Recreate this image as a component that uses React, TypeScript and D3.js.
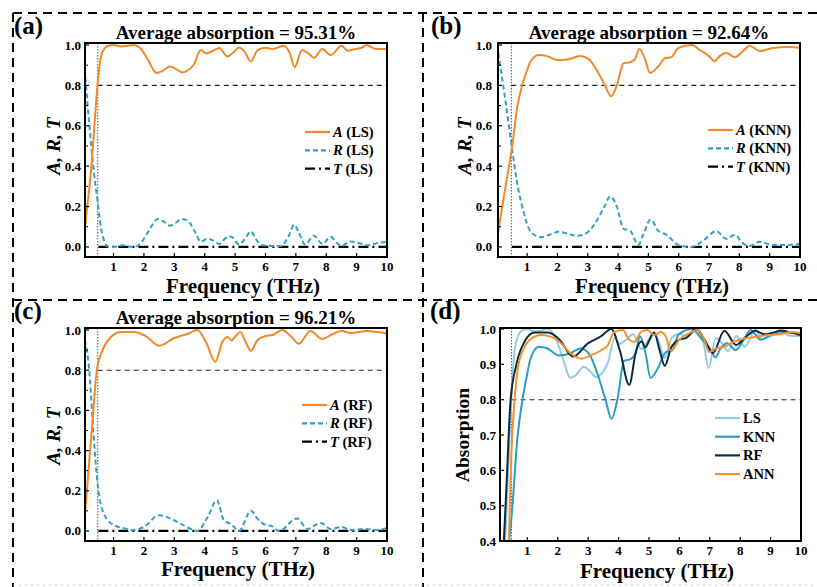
import React from "react";
import * as d3 from "d3";

type Pt = [number, number];

const SERIF = "'Liberation Serif', 'Times New Roman', Times, serif";

const A_COLOR = "#f08a28";
const R_COLOR = "#2fa2c3";
const LS_COLOR = "#94cbe2";
const KNN_COLOR = "#2b9dc1";
const RF_COLOR = "#0e2c40";
const ANN_COLOR = "#f2922a";

const freqTicks = [1, 2, 3, 4, 5, 6, 7, 8, 9, 10];
const artTicks = [0, 0.2, 0.4, 0.6, 0.8, 1.0];
const artMinorTicks = [0.1, 0.3, 0.5, 0.7, 0.9];
const absTicks = [0.4, 0.5, 0.6, 0.7, 0.8, 0.9, 1.0];

const panelLetters = ["(a)", "(b)", "(c)", "(d)"];
const methods = ["LS", "KNN", "RF", "ANN"];
const averageAbsorption = ["95.31%", "92.64%", "96.21%"];

const threshold = 0.8;
const cutoffFreq = 0.48;

// (a) LS
const lsA: Pt[] = [
  [0.05, 0.08], [0.15, 0.22], [0.26, 0.38], [0.36, 0.58], [0.47, 0.8], [0.58, 0.94], [0.69, 0.98],
  [0.8, 0.995], [1.0, 1.0], [1.25, 0.993], [1.45, 0.996], [1.68, 1.0], [1.9, 0.98], [2.12, 0.93],
  [2.42, 0.862], [2.6, 0.87], [2.85, 0.893], [3.05, 0.882], [3.27, 0.864], [3.45, 0.875], [3.65, 0.905],
  [3.87, 0.975], [4.04, 0.958], [4.25, 0.97], [4.48, 0.985], [4.75, 0.943], [4.95, 0.965], [5.13, 0.988],
  [5.3, 0.97], [5.52, 0.918], [5.74, 0.975], [6.0, 0.987], [6.23, 0.98], [6.6, 0.997], [6.8, 0.96],
  [6.96, 0.89], [7.2, 0.975], [7.4, 0.96], [7.6, 0.937], [7.87, 0.98], [8.15, 0.95], [8.5, 0.997],
  [8.7, 0.972], [8.95, 0.98], [9.14, 0.985], [9.35, 1.0], [9.6, 0.982], [10, 0.98],
];
const lsR: Pt[] = [
  [0.05, 0.88], [0.2, 0.61], [0.36, 0.36], [0.47, 0.23], [0.58, 0.1], [0.69, 0.03], [0.8, 0.003],
  [1.0, 0.0], [1.3, 0.008], [1.5, 0.002], [1.68, 0.0], [1.9, 0.02], [2.2, 0.09], [2.45, 0.138],
  [2.65, 0.125], [2.85, 0.105], [3.05, 0.12], [3.27, 0.138], [3.5, 0.12], [3.7, 0.07], [3.87, 0.025],
  [4.08, 0.04], [4.3, 0.03], [4.48, 0.015], [4.7, 0.045], [4.86, 0.052], [5.13, 0.012], [5.35, 0.045],
  [5.52, 0.077], [5.7, 0.035], [5.9, 0.008], [6.2, 0.005], [6.5, 0.004], [6.75, 0.05], [6.95, 0.11],
  [7.1, 0.07], [7.3, 0.012], [7.6, 0.055], [7.87, 0.015], [8.15, 0.05], [8.35, 0.02], [8.5, 0.005],
  [8.8, 0.027], [9.1, 0.018], [9.35, 0.008], [9.7, 0.02], [10, 0.024],
];

// (b) KNN
const knnA: Pt[] = [
  [0.05, 0.08], [0.29, 0.3], [0.51, 0.5], [0.67, 0.69], [0.84, 0.8], [1.0, 0.875], [1.1, 0.915],
  [1.38, 0.95], [1.66, 0.945], [2.04, 0.925], [2.37, 0.93], [2.75, 0.945], [3.03, 0.93], [3.3, 0.875],
  [3.57, 0.8], [3.77, 0.746], [3.96, 0.8], [4.18, 0.91], [4.4, 0.915], [4.56, 0.93], [4.7, 0.98],
  [4.89, 0.93], [5.05, 0.862], [5.33, 0.895], [5.55, 0.935], [5.76, 0.94], [5.98, 0.985], [6.42, 1.0],
  [6.7, 0.975], [7.0, 0.945], [7.19, 0.92], [7.35, 0.945], [7.57, 0.96], [7.85, 0.94], [8.12, 0.97],
  [8.34, 0.997], [8.67, 0.97], [9.1, 0.985], [9.65, 0.99], [10, 0.985],
];
const knnR: Pt[] = [
  [0.05, 0.96], [0.29, 0.72], [0.51, 0.48], [0.67, 0.32], [0.89, 0.17], [1.1, 0.08], [1.44, 0.048],
  [1.75, 0.06], [2.04, 0.075], [2.35, 0.065], [2.64, 0.055], [2.97, 0.07], [3.3, 0.13], [3.55, 0.2],
  [3.74, 0.25], [3.96, 0.2], [4.18, 0.09], [4.4, 0.08], [4.67, 0.01], [4.83, 0.06], [5.07, 0.135],
  [5.33, 0.08], [5.6, 0.06], [5.98, 0.01], [6.42, 0.0], [6.8, 0.03], [7.24, 0.078], [7.57, 0.04],
  [7.85, 0.06], [8.1, 0.02], [8.34, 0.005], [8.67, 0.025], [9.1, 0.01], [9.65, 0.01], [10, 0.015],
];

// (c) RF
const rfA: Pt[] = [
  [0.05, 0.06], [0.2, 0.35], [0.31, 0.55], [0.45, 0.8], [0.64, 0.9], [0.91, 0.965], [1.24, 0.99],
  [1.68, 0.99], [2.06, 0.97], [2.5, 0.922], [3.0, 0.96], [3.43, 0.98], [3.76, 1.0], [4.04, 0.94],
  [4.35, 0.842], [4.58, 0.94], [4.75, 0.965], [4.88, 0.948], [5.02, 0.97], [5.17, 0.99], [5.35, 0.94],
  [5.52, 0.896], [5.74, 0.95], [6.0, 0.97], [6.23, 0.975], [6.55, 1.0], [6.83, 0.97], [7.1, 0.932],
  [7.48, 0.995], [7.87, 0.955], [8.15, 0.975], [8.5, 0.995], [8.8, 0.985], [9.35, 0.995], [9.68, 0.99],
  [10, 0.982],
];
const rfR: Pt[] = [
  [0.05, 0.95], [0.2, 0.8], [0.31, 0.55], [0.47, 0.24], [0.7, 0.08], [1.0, 0.03], [1.46, 0.01],
  [1.6, 0.005], [2.0, 0.02], [2.5, 0.078], [2.9, 0.06], [3.34, 0.025], [3.76, 0.0], [4.1, 0.07],
  [4.4, 0.153], [4.64, 0.05], [4.86, 0.035], [5.13, 0.0], [5.52, 0.1], [5.74, 0.06], [6.0, 0.03],
  [6.2, 0.025], [6.44, 0.0], [7.04, 0.062], [7.38, 0.01], [7.82, 0.04], [8.15, 0.01], [8.5, 0.02],
  [8.8, 0.005], [9.24, 0.01], [9.7, 0.005], [10, 0.015],
];

// (d) ANN, only absorption is shown
const annA: Pt[] = [
  [0.1, 0.05], [0.39, 0.4], [0.475, 0.65], [0.58, 0.8], [0.69, 0.89], [0.86, 0.94], [1.13, 0.973],
  [1.46, 0.983], [1.79, 0.978], [2.11, 0.96], [2.44, 0.93], [2.77, 0.916], [3.1, 0.926], [3.43, 0.94],
  [3.65, 0.955], [3.86, 0.992], [4.14, 0.997], [4.36, 0.969], [4.52, 0.964], [4.74, 0.992], [4.96, 0.997],
  [5.17, 0.983], [5.39, 0.992], [5.56, 0.978], [5.72, 0.938], [5.99, 0.969], [6.32, 0.988], [6.6, 0.997],
  [6.81, 0.973], [6.98, 0.935], [7.2, 0.945], [7.47, 0.95], [7.8, 0.964], [8.13, 0.973], [8.56, 0.978],
  [8.89, 0.983], [9.33, 0.985], [9.66, 0.992], [10, 0.988],
];

// transmission is zero across the band
const transmission: Pt[] = [[0.5, 0], [10, 0]];

type Series = { data: Pt[]; color: string; dash?: string; width?: number };
type LegendItem = { italic?: string; text: string; color: string; dash?: string };

type Layout = {
  left: number; right: number; top: number; bottom: number; fStart: number;
  letter: [number, number]; yLab: [number, number]; xLab: [number, number];
  leg: [number, number]; legStep: number; labGap: number;
};

const layouts: Layout[] = [
  { left: 85, right: 387, top: 43, bottom: 257, fStart: 0.06, letter: [14, 34], yLab: [60, 146], xLab: [243, 293], leg: [305, 132], legStep: 18.3, labGap: 4 },
  { left: 498, right: 800, top: 43, bottom: 257, fStart: 0.04, letter: [431, 34], yLab: [471, 146], xLab: [652, 293], leg: [708, 130], legStep: 18.3, labGap: 6 },
  { left: 85, right: 387, top: 328, bottom: 541, fStart: 0.06, letter: [14, 319], yLab: [60, 436], xLab: [238, 576], leg: [302, 405], legStep: 18.3, labGap: 4 },
  { left: 500, right: 801, top: 328, bottom: 541, fStart: 0.1, letter: [430, 319], yLab: [469, 435], xLab: [657, 578], leg: [715, 418], legStep: 18.7, labGap: 4 },
];

const fmt = d3.format(".1f");

function Panel(props: {
  id: string; lay: Layout; yDomain: [number, number]; yTicks: number[]; yMinor: number[];
  series: Series[]; legend: LegendItem[]; letter: string; title?: string; yLabel: React.ReactNode;
}) {
  const { id, lay, yDomain, yTicks, yMinor, series, legend, letter, title, yLabel } = props;
  const x = d3.scaleLinear().domain([lay.fStart, 10]).range([lay.left, lay.right]);
  const y = d3.scaleLinear().domain(yDomain).range([lay.bottom, lay.top]);
  const line = d3.line<Pt>().x((d) => x(d[0])).y((d) => y(d[1])).curve(d3.curveMonotoneX);
  const cx = (lay.left + lay.right) / 2;

  return (
    <g fontFamily={SERIF} fontWeight="bold">
      <defs>
        <clipPath id={id}>
          <rect x={lay.left} y={lay.top} width={lay.right - lay.left} height={lay.bottom - lay.top} />
        </clipPath>
      </defs>
      <text x={lay.letter[0]} y={lay.letter[1]} fontSize={25}>{letter}</text>
      {title && (
        <text x={cx} y={lay.top - 4} fontSize={19} textAnchor="middle">{title}</text>
      )}

      {/* reference lines */}
      <line x1={x(cutoffFreq)} x2={x(cutoffFreq)} y1={lay.top} y2={lay.bottom}
        stroke="#555" strokeWidth={1} strokeDasharray="1.5,1.5" />
      <line x1={x(cutoffFreq)} x2={lay.right} y1={y(threshold)} y2={y(threshold)}
        stroke="#222" strokeWidth={1.1} strokeDasharray="5,4" />

      <g clipPath={`url(#${id})`}>
        {series.map((s, i) => (
          <path key={i} d={line(s.data) || ""} fill="none" stroke={s.color}
            strokeWidth={s.width ?? 2} strokeDasharray={s.dash} />
        ))}
      </g>

      {/* ticks */}
      {freqTicks.map((t) => (
        <g key={t}>
          <line x1={x(t)} x2={x(t)} y1={lay.bottom} y2={lay.bottom - 4} stroke="#000" strokeWidth={1.2} />
          <text x={x(t)} y={lay.bottom + 14} fontSize={13} textAnchor="middle">{t}</text>
        </g>
      ))}
      {yTicks.map((t) => (
        <g key={t}>
          <line x1={lay.left} x2={lay.left + 4} y1={y(t)} y2={y(t)} stroke="#000" strokeWidth={1.2} />
          <text x={lay.left - lay.labGap} y={y(t) + 4.5} fontSize={13} textAnchor="end">{fmt(t)}</text>
        </g>
      ))}
      {yMinor.map((t) => (
        <line key={t} x1={lay.left} x2={lay.left + 3} y1={y(t)} y2={y(t)} stroke="#000" strokeWidth={1} />
      ))}

      <rect x={lay.left} y={lay.top} width={lay.right - lay.left} height={lay.bottom - lay.top}
        fill="none" stroke="#000" strokeWidth={2} />

      <text x={lay.xLab[0]} y={lay.xLab[1]} fontSize={21} textAnchor="middle">Frequency (THz)</text>
      <text transform={`translate(${lay.yLab[0]},${lay.yLab[1]}) rotate(-90)`} fontSize={19.5} textAnchor="middle">
        {yLabel}
      </text>

      {/* legend */}
      {legend.map((l, i) => {
        const ly = lay.leg[1] + i * lay.legStep;
        return (
          <g key={i}>
            <line x1={lay.leg[0]} x2={lay.leg[0] + 25} y1={ly} y2={ly} stroke={l.color}
              strokeWidth={2.2} strokeDasharray={l.dash} />
            <text x={lay.leg[0] + 28} y={ly + 5} fontSize={14.5}>
              {l.italic && <tspan fontStyle="italic">{l.italic}</tspan>}
              {l.text}
            </text>
          </g>
        );
      })}
    </g>
  );
}

const R_DASH = "5,3";
const T_DASH = "10,4,2,4";

function artLegend(m: string): LegendItem[] {
  return [
    { italic: "A", text: ` (${m})`, color: A_COLOR },
    { italic: "R", text: ` (${m})`, color: R_COLOR, dash: R_DASH },
    { italic: "T", text: ` (${m})`, color: "#000", dash: T_DASH },
  ];
}

const artLabel = <tspan fontStyle="italic">A, R, T</tspan>;

export default function App() {
  const artData: [Pt[], Pt[]][] = [[lsA, lsR], [knnA, knnR], [rfA, rfR]];
  const border = { stroke: "#000", strokeWidth: 2, strokeDasharray: "9,6" };
  return (
    <div style={{ position: "absolute", left: 0, top: 0 }}>
      <svg width={817} height={587} style={{ display: "block", background: "#fff" }}>
        <line x1={13} x2={817} y1={13} y2={13} {...border} />
        <line x1={13} x2={817} y1={300} y2={300} {...border} />
        <line x1={13} x2={13} y1={13} y2={587} {...border} />
        <line x1={423} x2={423} y1={13} y2={587} {...border} />
        <line x1={13} x2={817} y1={585} y2={585} stroke="#c8c8c8" strokeWidth={1} strokeDasharray="2,4" />

        {artData.map(([a, r], i) => (
          <Panel key={i} id={`clip${i}`} lay={layouts[i]} yDomain={[-0.05, 1.01]}
            yTicks={artTicks} yMinor={artMinorTicks}
            series={[
              { data: transmission, color: "#000", dash: T_DASH, width: 2.2 },
              { data: r, color: R_COLOR, dash: R_DASH, width: 2 },
              { data: a, color: A_COLOR, width: 2 },
            ]}
            legend={artLegend(methods[i])} letter={panelLetters[i]}
            title={`Average absorption = ${averageAbsorption[i]}`} yLabel={artLabel} />
        ))}

        <Panel id="clip3" lay={layouts[3]} yDomain={[0.4, 1.003]} yTicks={absTicks} yMinor={[]}
          series={[
            { data: lsA, color: LS_COLOR, width: 2 },
            { data: knnA, color: KNN_COLOR, width: 2 },
            { data: rfA, color: RF_COLOR, width: 2 },
            { data: annA, color: ANN_COLOR, width: 2 },
          ]}
          legend={[
            { text: methods[0], color: LS_COLOR },
            { text: methods[1], color: KNN_COLOR },
            { text: methods[2], color: RF_COLOR },
            { text: methods[3], color: ANN_COLOR },
          ]}
          letter={panelLetters[3]} yLabel="Absorption" />
      </svg>
    </div>
  );
}
